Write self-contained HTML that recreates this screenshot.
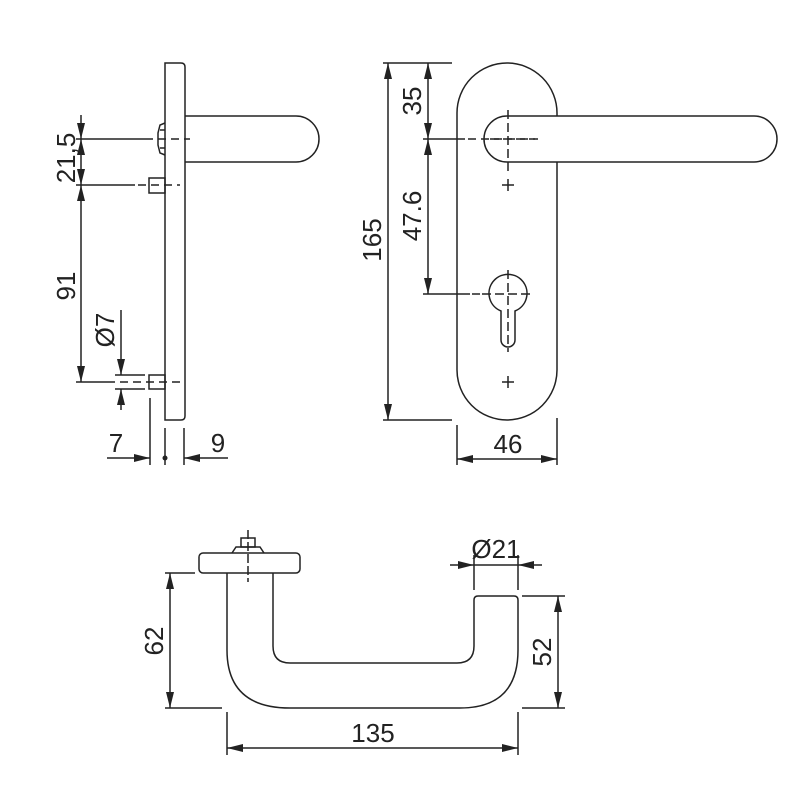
<!DOCTYPE html>
<html><head><style>html,body{margin:0;padding:0;background:#fff}svg{display:block}</style></head><body>
<svg width="800" height="800" viewBox="0 0 800 800" xmlns="http://www.w3.org/2000/svg">
<defs>
<marker id="a" viewBox="0 0 16 8" refX="16" refY="4" markerWidth="16" markerHeight="8" markerUnits="userSpaceOnUse" orient="auto-start-reverse"><path d="M0,0L16,4L0,8z" fill="#222"/></marker>
</defs>
<g fill="none" stroke="#222" stroke-width="1.5">
<!-- side view -->
<path d="M165,63 H181 Q185,63 185,67 V416 Q185,420 181,420 H165 Z"/>
<path d="M185,116 H296 A23,23 0 0 1 296,162 H185"/>
<path d="M165,123 L160,125 L158,133 V145 L160,153 L165,155"/>
<path d="M160,130 H165 M160,148 H165"/>
<rect x="149" y="178" width="16" height="15"/>
<rect x="149" y="375" width="16" height="14"/>
<path d="M76,139 H145" /><path d="M145,139 H190" stroke-dasharray="8,5"/>
<path d="M76,185 H135"/><path d="M138,185 H180" stroke-dasharray="8,5"/>
<path d="M76,382 H115"/><path d="M120,382 H180" stroke-dasharray="8,5"/>
<path d="M81,139 V185" marker-start="url(#a)" marker-end="url(#a)"/>
<path d="M81,115 V139" marker-end="url(#a)"/>
<path d="M81,185 V382" marker-start="url(#a)" marker-end="url(#a)"/>
<path d="M115,375 H145 M115,389 H145"/>
<path d="M121,310 V375" marker-end="url(#a)"/>
<path d="M121,410 V389" marker-end="url(#a)"/>
<path d="M150,398 V465 M165,428 V465 M184,428 V465"/>
<path d="M107,458 H150" marker-end="url(#a)"/>
<path d="M228,458 H184" marker-end="url(#a)"/>
<!-- front view -->
<rect x="457" y="63" width="100" height="357" rx="50" ry="50"/>
<path d="M557,116 H754 A23,23 0 0 1 754,162 H507 A23,23 0 0 1 507,116 Z" fill="#fff"/>
<path d="M508,110 V172 M490,139 H540" stroke-dasharray="9,4"/>
<path d="M502,185 H514 M508,179 V191 M502,382 H514 M508,376 V388"/>
<path d="M501,311 A19,19 0 1 1 515,311 V340 A7,7 0 0 1 501,340 Z"/>
<path d="M508,270 V352 M482,294 H534" stroke-dasharray="9,4"/>
<path d="M383,63 H452 M383,420 H452"/>
<path d="M423,139 H465" /><path d="M468,139 H535" stroke-dasharray="8,5"/>
<path d="M423,294 H470"/><path d="M472,294 H485" stroke-dasharray="8,5"/>
<path d="M388,63 V420" marker-start="url(#a)" marker-end="url(#a)"/>
<path d="M428,63 V139" marker-start="url(#a)" marker-end="url(#a)"/>
<path d="M428,139 V294" marker-start="url(#a)" marker-end="url(#a)"/>
<path d="M457,425 V465 M557,418 V465"/>
<path d="M457,459 H557" marker-start="url(#a)" marker-end="url(#a)"/>
<!-- bottom view -->
<rect x="199" y="553" width="101" height="20" rx="4"/>
<path d="M232,553 L236,547 H260 L264,553"/>
<rect x="241" y="538" width="14" height="9"/>
<path d="M248,530 V582" stroke-dasharray="9,3"/>
<path d="M227,573 V650 Q227,708 290,708 H460 Q518,708 518,650 V600 Q518,596 514,596 H478 Q474,596 474,600 V646 Q474,663 457,663 H290 Q273,663 273,646 V573"/>
<path d="M165,573 H195 M165,708 H222 M522,596 H565 M522,708 H565"/>
<path d="M170,573 V708" marker-start="url(#a)" marker-end="url(#a)"/>
<path d="M558,596 V708" marker-start="url(#a)" marker-end="url(#a)"/>
<path d="M227,712 V755 M518,712 V755"/>
<path d="M227,748 H518" marker-start="url(#a)" marker-end="url(#a)"/>
<path d="M474,555 V590 M518,555 V590"/>
<path d="M450,565 H474" marker-end="url(#a)"/>
<path d="M542,565 H518" marker-end="url(#a)"/>
<path d="M474,565 H518"/>
</g>
<circle cx="165" cy="458" r="2.5" fill="#222"/>
<g font-family="Liberation Sans, Arial, sans-serif" font-size="26" fill="#222">
<text transform="translate(75,158) rotate(-90)" text-anchor="middle">21,5</text>
<text transform="translate(75,286) rotate(-90)" text-anchor="middle">91</text>
<text transform="translate(114,330) rotate(-90)" text-anchor="middle">Ø7</text>
<text x="116" y="452" text-anchor="middle">7</text>
<text x="218" y="452" text-anchor="middle">9</text>
<text transform="translate(381,240) rotate(-90)" text-anchor="middle">165</text>
<text transform="translate(421,101) rotate(-90)" text-anchor="middle">35</text>
<text transform="translate(421,216) rotate(-90)" text-anchor="middle">47.6</text>
<text x="508" y="453" text-anchor="middle">46</text>
<text transform="translate(163,641) rotate(-90)" text-anchor="middle">62</text>
<text transform="translate(551,652) rotate(-90)" text-anchor="middle">52</text>
<text x="373" y="742" text-anchor="middle">135</text>
<text x="496" y="558" text-anchor="middle">Ø21</text>
</g>
</svg>
</body></html>
